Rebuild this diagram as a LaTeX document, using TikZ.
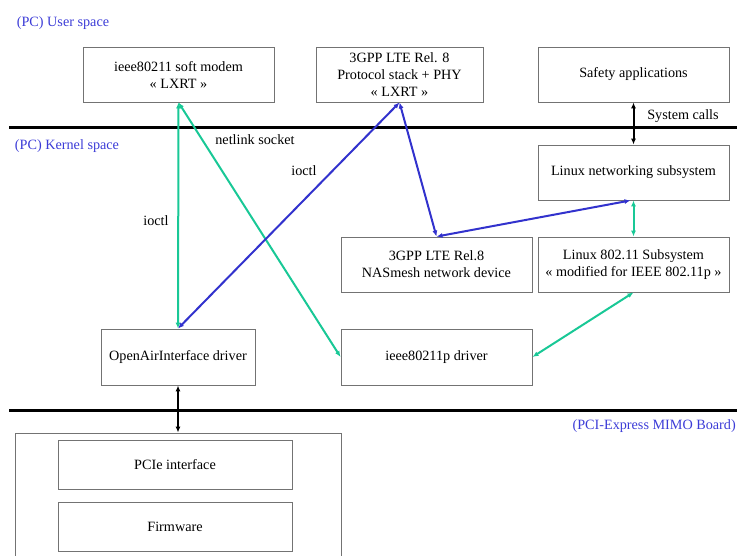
\documentclass[tikz,border=0pt]{standalone}
\usepackage{fontspec}
\setmainfont{Liberation Serif}
\usetikzlibrary{arrows.meta}

\definecolor{linkgreen}{RGB}{25,200,150}
\definecolor{linkblue}{RGB}{50,50,205}
\definecolor{zonetext}{RGB}{60,60,215}

\begin{document}
\begin{tikzpicture}[x=1pt, y=-1pt,
    font=\fontsize{14.2}{17}\selectfont,
    box/.style={draw=black!55, line width=0.9pt, align=center, inner sep=0pt},
    zone/.style={text=zonetext, inner sep=0pt},
    sep/.style={line width=3pt},
    green link/.style={draw=linkgreen, line width=2pt, {Latex[length=6pt,width=5pt]}-{Latex[length=6pt,width=5pt]}},
    blue link/.style={draw=linkblue, line width=2pt, {Latex[length=6pt,width=5pt]}-{Latex[length=6pt,width=5pt]}},
    black link/.style={draw=black, line width=2pt, {Latex[length=6pt,width=5pt]}-{Latex[length=6pt,width=5pt]}}]
    \useasboundingbox (0,0) rectangle (737,555);
    \clip (0,0) rectangle (737,555);

    % zones
    \node[zone] (user) at (63,23) {(PC) User space};
    \node[zone] (kernel) at (67,146) {(PC) Kernel space};
    \node[zone, anchor=east] (board label) at (736,426) {(PCI-Express MIMO Board)};
    \draw[sep] (9,127) -- (737,127); % user / kernel
    \draw[sep] (9,410) -- (737,410); % kernel / board

    % user space
    \node[box, minimum width=191pt, minimum height=55pt] (modem) at (178.5,74.5) {ieee80211 soft modem\\« LXRT »};
    \node[box, minimum width=167pt, minimum height=55pt] (lte) at (399.5,74.5) {3GPP LTE Rel. 8\\Protocol stack + PHY\\« LXRT »};
    \node[box, minimum width=191pt, minimum height=55pt] (safety) at (633.5,74.5) {Safety applications};

    % kernel space
    \node[box, minimum width=191pt, minimum height=55pt] (netsys) at (633.5,172.5) {Linux networking subsystem};
    \node[box, minimum width=191pt, minimum height=55pt] (nasmesh) at (436.5,264.5) {3GPP LTE Rel.8\\NASmesh network device};
    \node[box, minimum width=191pt, minimum height=55pt] (wifisys) at (633.5,264.5) {Linux 802.11 Subsystem\\« modified for IEEE 802.11p »};
    \node[box, minimum width=154pt, minimum height=56pt] (oai) at (178,357) {OpenAirInterface driver};
    \node[box, minimum width=191pt, minimum height=56pt] (pdriver) at (436.5,357) {ieee80211p driver};

    % board
    \node[box, minimum width=326pt, minimum height=150pt] (board) at (178,508) {};
    \node[box, minimum width=234pt, minimum height=49pt] (pcie) at (175,464.5) {PCIe interface};
    \node[box, minimum width=234pt, minimum height=49pt] (fw) at (175,526.5) {Firmware};

    % links
    \draw[black link] (safety.south) -- (netsys.north); % system calls
    \node (syscalls) at (683,116) {System calls};
    \draw[green link] (modem.south) -- (oai.north); % modem - oai
    \node (ioctl a) at (156,221) {ioctl};
    \draw[green link] (modem.south) -- (pdriver.west); % modem - 802.11p driver
    \node (netlink) at (255,140) {netlink socket};
    \draw[blue link] (lte.south) -- (oai.north); % lte - oai
    \node (ioctl b) at (304,171) {ioctl};
    \draw[blue link] (lte.south) -- (nasmesh.north); % lte - nasmesh
    \draw[blue link] (nasmesh.north) -- ([xshift=-3pt]netsys.south); % nasmesh - net subsystem
    \draw[green link] (netsys.south) -- (wifisys.north); % net - 802.11
    \draw[green link] (wifisys.south) -- (pdriver.east); % 802.11 - driver
    \draw[black link] (oai.south) -- (board.north); % oai - board
\end{tikzpicture}
\end{document}
